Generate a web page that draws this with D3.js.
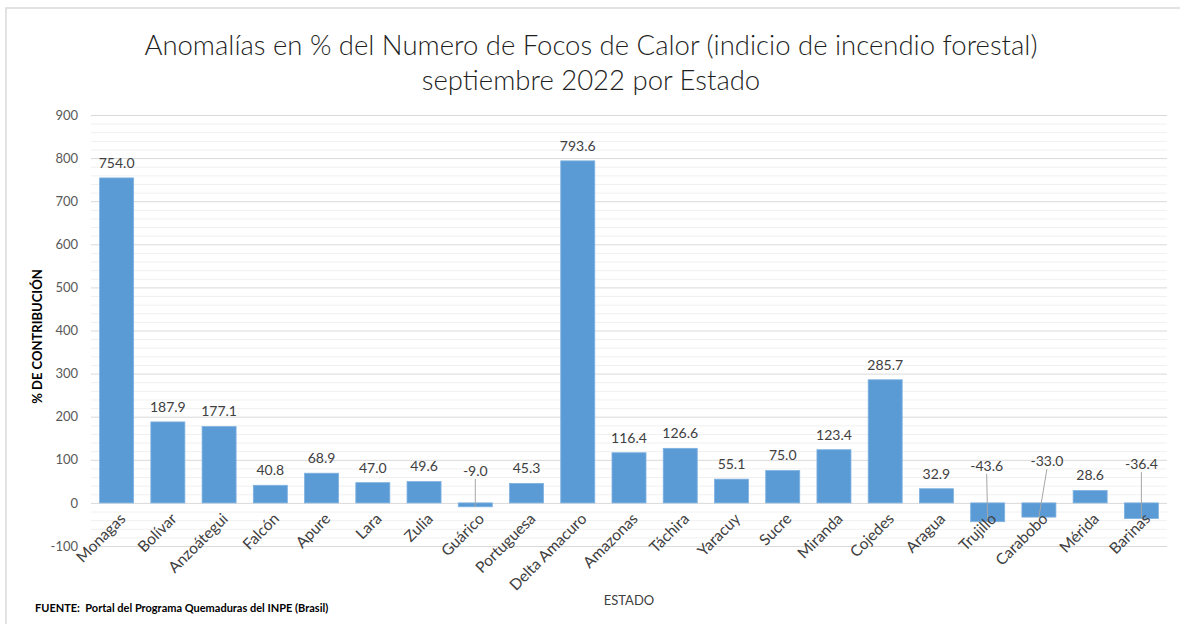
<!DOCTYPE html>
<html>
<head>
<meta charset="utf-8">
<script src="https://cdn.jsdelivr.net/npm/d3@7"></script>
<style>
    html, body { margin: 0; padding: 0; background: #fff; }
    #chart { width: 1180px; height: 624px; }
    text { font-family: Lato, "Liberation Sans", sans-serif; }
</style>
</head>
<body>
<div id="chart"></div>
<script>
const states = ['Monagas', 'Bolívar', 'Anzoátegui', 'Falcón', 'Apure', 'Lara', 'Zulia', 'Guárico',
    'Portuguesa', 'Delta Amacuro', 'Amazonas', 'Táchira', 'Yaracuy', 'Sucre', 'Miranda', 'Cojedes',
    'Aragua', 'Trujillo', 'Carabobo', 'Mérida', 'Barinas'];
const anomalies = [754.0, 187.9, 177.1, 40.8, 68.9, 47.0, 49.6, -9.0, 45.3, 793.6, 116.4, 126.6,
    55.1, 75.0, 123.4, 285.7, 32.9, -43.6, -33.0, 28.6, -36.4];
const yTicks = [-100, 0, 100, 200, 300, 400, 500, 600, 700, 800, 900];
const minorTicks = d3.range(-100, 901, 20);

const titleLines = ['Anomalías en % del Numero de Focos de Calor (indicio de incendio forestal)',
    'septiembre 2022 por Estado'];
const yTitle = '% DE CONTRIBUCIÓN';
const xTitle = 'ESTADO';
const source = 'FUENTE:  Portal del Programa Quemaduras del INPE (Brasil)';

// negative bars get their label moved up with a leader line (label centre, in data units)
const callouts = {
    'Guárico': { y: 74, dx: 0 },
    'Trujillo': { y: 86, dx: -1 },
    'Carabobo': { y: 97, dx: 8 },
    'Barinas': { y: 90, dx: 0 }
};

const W = 1180, H = 624;
const plot = { left: 91, right: 1167, top: 115, bottom: 546 };
const barColor = '#5b9bd5';
const textColor = '#404040';
const fmt = v => v.toFixed(1).replace('\u2212', '-');

const svg = d3.select('#chart').append('svg')
    .attr('width', W)
    .attr('height', H);

// outer frame
svg.append('rect')
    .attr('x', 6).attr('y', 8)
    .attr('width', W).attr('height', H)
    .attr('fill', 'none')
    .attr('stroke', '#d9d9d9')
    .attr('stroke-width', 1.5);

const x = d3.scaleBand()
    .domain(states)
    .range([plot.left, plot.right])
    .paddingInner(0.336)
    .paddingOuter(0.168);

const y = d3.scaleLinear()
    .domain([-100, 900])
    .range([plot.bottom, plot.top]);

// minor grid
svg.append('g')
    .attr('transform', `translate(${plot.left},0)`)
    .call(d3.axisRight(y).tickValues(minorTicks.filter(v => v % 100 !== 0))
        .tickSize(plot.right - plot.left).tickFormat(''))
    .call(g => g.select('.domain').remove())
    .call(g => g.selectAll('line').attr('stroke', '#f0f0f0').attr('stroke-width', 1));

// major grid
svg.append('g')
    .attr('transform', `translate(${plot.left},0)`)
    .call(d3.axisRight(y).tickValues(yTicks)
        .tickSize(plot.right - plot.left).tickFormat(''))
    .call(g => g.select('.domain').remove())
    .call(g => g.selectAll('line').attr('stroke', '#d9d9d9').attr('stroke-width', 1));

// y labels
svg.append('g')
    .attr('transform', `translate(${plot.left - 6},0)`)
    .call(d3.axisLeft(y).tickValues(yTicks).tickSize(0).tickPadding(7)
        .tickFormat(d => String(d)))
    .call(g => g.select('.domain').remove())
    .call(g => g.selectAll('text')
        .attr('fill', '#595959')
        .style('font-size', '13px'));

// bars
svg.append('g')
    .selectAll('rect')
    .data(anomalies)
    .join('rect')
    .attr('x', (d, i) => x(states[i]))
    .attr('width', x.bandwidth())
    .attr('y', d => y(Math.max(0, d)))
    .attr('height', d => Math.abs(y(d) - y(0)))
    .attr('fill', barColor)
    .attr('stroke', '#7fb2e0')
    .attr('stroke-width', 0.8);

// value labels
const labels = svg.append('g');
anomalies.forEach((d, i) => {
    const name = states[i];
    const cx = x(name) + x.bandwidth() / 2;
    const c = callouts[name];
    if (c) {
        const ly = y(c.y);
        labels.append('line')
            .attr('x1', cx + c.dx).attr('y1', ly + 8)
            .attr('x2', cx).attr('y2', y(d))
            .attr('stroke', '#a6a6a6')
            .attr('stroke-width', 1);
        labels.append('text')
            .attr('x', cx + c.dx).attr('y', ly)
            .attr('dy', '0.35em')
            .attr('text-anchor', 'middle')
            .attr('fill', textColor)
            .style('font-size', '14px')
            .text(fmt(d));
    } else {
        labels.append('text')
            .attr('x', cx).attr('y', y(d) - 15)
            .attr('dy', '0.35em')
            .attr('text-anchor', 'middle')
            .attr('fill', textColor)
            .style('font-size', '14px')
            .text(fmt(d));
    }
});

// category labels
svg.append('g')
    .selectAll('text')
    .data(states)
    .join('text')
    .attr('transform', d => `translate(${x(d) + x.bandwidth() / 2 + 6},${y(0) + 13}) rotate(-45)`)
    .attr('text-anchor', 'end')
    .attr('dy', '0.35em')
    .attr('fill', textColor)
    .style('font-size', '15.5px')
    .text(d => d);

// title
svg.append('g')
    .selectAll('text')
    .data(titleLines)
    .join('text')
    .attr('x', 591)
    .attr('y', (d, i) => 55 + i * 35)
    .attr('text-anchor', 'middle')
    .attr('fill', '#1f1f1f')
    .style('font-size', '27.5px')
    .style('font-weight', 300)
    .text(d => d);

// axis titles
svg.append('text')
    .attr('transform', `translate(42,${(plot.top + plot.bottom) / 2 + 6}) rotate(-90)`)
    .attr('text-anchor', 'middle')
    .attr('fill', '#000')
    .style('font-size', '13px')
    .style('font-weight', 'bold')
    .text(yTitle);

svg.append('text')
    .attr('x', 629).attr('y', 605)
    .attr('text-anchor', 'middle')
    .attr('fill', textColor)
    .style('font-size', '13px')
    .text(xTitle);

svg.append('text')
    .attr('x', 35).attr('y', 612)
    .attr('fill', '#000')
    .style('font-size', '11px')
    .style('font-weight', 'bold')
    .style('white-space', 'pre')
    .text(source);
</script>
</body>
</html>
